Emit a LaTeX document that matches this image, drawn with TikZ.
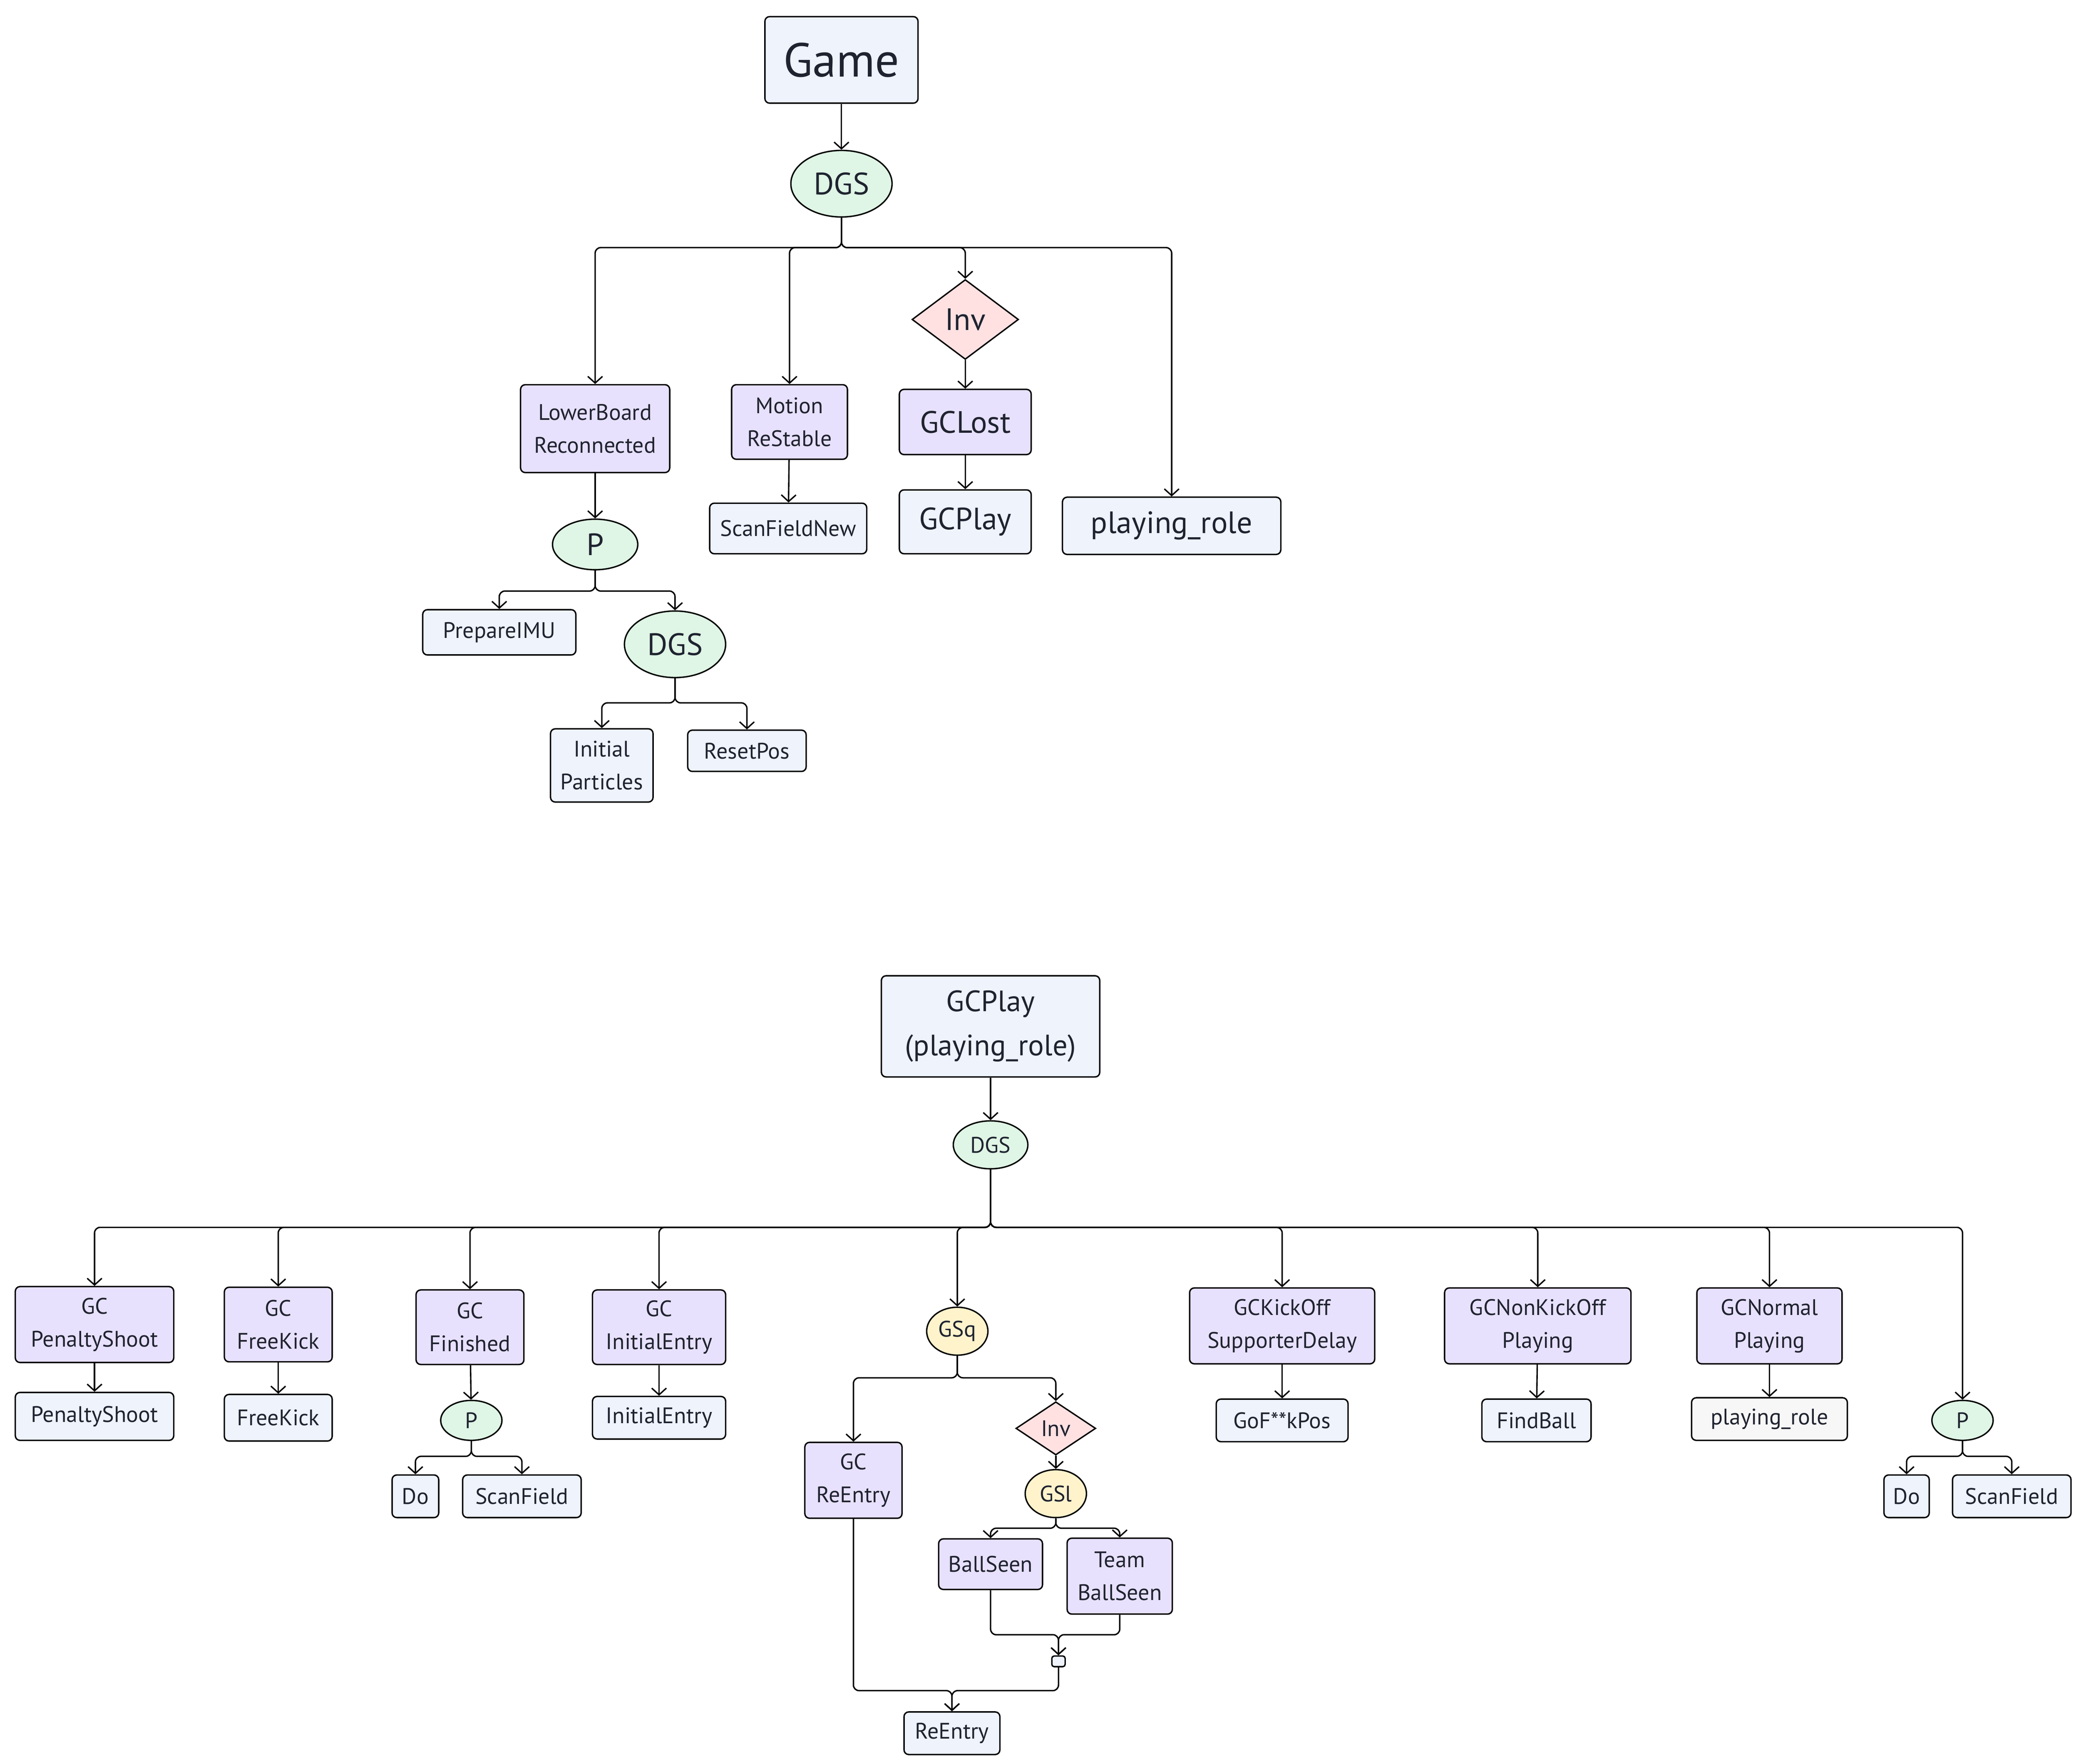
\documentclass[tikz,border=0pt]{standalone}
\usepackage{fontspec}
\setmainfont{PT Sans}
\usetikzlibrary{shapes.geometric,arrows.meta}
\definecolor{boxblue}{HTML}{EEF3FC}
\definecolor{boxlilac}{HTML}{E8E1FD}
\definecolor{selmint}{HTML}{DFF5E5}
\definecolor{invpink}{HTML}{FFE1E2}
\definecolor{seqyellow}{HTML}{FFF3CC}
\definecolor{inkgray}{HTML}{1F2330}
\tikzset{
  sz/.style 2 args={minimum width=#1*0.01cm,minimum height=#2*0.01cm},
  base/.style={draw,line width=0.3pt,inner sep=0pt,align=center,text=inkgray,
    font=\fontsize{4.8}{7}\selectfont},
  act/.style={base,rectangle,rounded corners=1pt,fill=boxblue},
  cond/.style={base,rectangle,rounded corners=1pt,fill=boxlilac},
  sel/.style={base,ellipse,fill=selmint},
  seq/.style={base,ellipse,fill=seqyellow},
  inv/.style={base,diamond,fill=invpink},
  big/.style={font=\fontsize{6.6}{9.4}\selectfont},
  link/.style={->,line width=0.3pt,rounded corners=1.2pt,
    >={Straight Barb[length=0.5mm,width=1.1mm]}}
}
\newcommand\fork[3]{\coordinate (fk) at (0,#3);
  \draw[link] (#1.south) -- (#1.south |- fk) -| (#2.north);}
\begin{document}
\begin{tikzpicture}[x=0.01cm,y=-0.01cm]
\useasboundingbox (0,0) rectangle (1563,1325);
% upper tree
\node[act,sz={115}{65},font=\fontsize{10.2}{12}\selectfont] (game) at (632,45) {Game};
\node[sel,big,sz={76}{50}] (dgsA) at (632,138) {DGS};
\node[cond,sz={112}{66}] (lowerboard) at (447,322) {LowerBoard\\Reconnected};
\node[cond,sz={87}{56}] (motion) at (593,317) {Motion\\ReStable};
\node[inv,big,sz={80}{60},aspect=1.33] (invA) at (725,240) {Inv};
\node[cond,big,sz={99}{49}] (gclost) at (725,317) {GCLost};
\node[act,big,sz={99}{48}] (gcplayA) at (725,392) {GCPlay};
\node[act,big,sz={164}{43}] (roleA) at (880,395) {playing\_role};
\node[act,sz={118}{38}] (scannew) at (592,397) {ScanFieldNew};
\node[sel,big,sz={64}{38}] (pA) at (447,409) {P};
\node[act,sz={115}{34}] (imu) at (375,475) {PrepareIMU};
\node[sel,big,sz={76}{50}] (dgsB) at (507,484) {DGS};
\node[act,sz={77}{55}] (particles) at (452,575) {Initial\\Particles};
\node[act,sz={89}{31}] (resetpos) at (561,564) {ResetPos};
\draw[link] (game) -- (dgsA);
\foreach \c in {lowerboard,motion,invA,roleA} {\fork{dgsA}{\c}{186}}
\draw[link] (invA) -- (gclost);
\draw[link] (gclost) -- (gcplayA);
\draw[link] (motion) -- (scannew);
\draw[link] (lowerboard) -- (pA);
\foreach \c in {imu,dgsB} {\fork{pA}{\c}{444}}
\foreach \c in {particles,resetpos} {\fork{dgsB}{\c}{528}}
% lower tree
\node[act,sz={164}{76},font=\fontsize{6.3}{9.4}\selectfont] (gcplayB) at (744,771) {GCPlay\\(playing\_role)};
\node[sel,sz={56}{36}] (dgsC) at (744,860) {DGS};
\node[cond,sz={119}{57}] (gcpenalty) at (71,995) {GC\\PenaltyShoot};
\node[cond,sz={81}{56}] (gcfree) at (209,995) {GC\\FreeKick};
\node[cond,sz={81}{56}] (gcfinished) at (353,997) {GC\\Finished};
\node[cond,sz={100}{56}] (gcinitial) at (495,997) {GC\\InitialEntry};
\node[seq,sz={46}{36}] (gsq) at (719,1000) {GSq};
\node[cond,sz={139}{57}] (gckickoff) at (963,996) {GCKickOff\\SupporterDelay};
\node[cond,sz={140}{57}] (gcnonkick) at (1155,996) {GCNonKickOff\\Playing};
\node[cond,sz={109}{57}] (gcnormal) at (1329,996) {GCNormal\\Playing};
\node[sel,sz={46}{30}] (pD) at (1474,1067) {P};
\node[act,sz={119}{36}] (penalty) at (71,1064) {PenaltyShoot};
\node[act,sz={81}{35}] (freekick) at (209,1065) {FreeKick};
\node[sel,sz={46}{30}] (pC) at (354,1067) {P};
\node[act,sz={100}{32}] (initial) at (495,1065) {InitialEntry};
\node[act,sz={99}{32}] (gofpos) at (963,1067) {GoF**kPos};
\node[act,sz={82}{32}] (findball) at (1154,1067) {FindBall};
\node[act,sz={117}{32},fill=gray!6] (roleB) at (1329,1066) {playing\_role};
\node[act,sz={35}{32}] (doA) at (312,1124) {Do};
\node[act,sz={89}{32}] (scanA) at (392,1124) {ScanField};
\node[act,sz={34}{32}] (doB) at (1432,1124) {Do};
\node[act,sz={89}{32}] (scanB) at (1511,1124) {ScanField};
\node[cond,sz={73}{57}] (gcreentry) at (641,1112) {GC\\ReEntry};
\node[inv,sz={60}{40},aspect=1.5] (invB) at (793,1073) {Inv};
\node[seq,sz={46}{36}] (gsl) at (793,1122) {GSl};
\node[cond,sz={78}{38}] (ballseen) at (744,1175) {BallSeen};
\node[cond,sz={79}{57}] (teamball) at (841,1184) {Team\\BallSeen};
\node[act,sz={10}{8},rounded corners=0.5pt] (junc) at (795,1248) {};
\node[act,sz={72}{32}] (reentry) at (715,1302) {ReEntry};
\draw[link] (gcplayB) -- (dgsC);
\foreach \c in {gcpenalty,gcfree,gcfinished,gcinitial,gsq,gckickoff,gcnonkick,gcnormal,pD} {\fork{dgsC}{\c}{922}}
\draw[link] (gcpenalty) -- (penalty);
\draw[link] (gcfree) -- (freekick);
\draw[link] (gcfinished) -- (pC);
\draw[link] (gcinitial) -- (initial);
\draw[link] (gckickoff) -- (gofpos);
\draw[link] (gcnonkick) -- (findball);
\draw[link] (gcnormal) -- (roleB);
\foreach \c in {doA,scanA} {\fork{pC}{\c}{1094}}
\foreach \c in {doB,scanB} {\fork{pD}{\c}{1094}}
\foreach \c in {gcreentry,invB} {\fork{gsq}{\c}{1035}}
\draw[link] (invB) -- (gsl);
\foreach \c in {ballseen,teamball} {\fork{gsl}{\c}{1148}}
\foreach \c in {ballseen,teamball} {\fork{\c}{junc}{1228}}
\foreach \c in {gcreentry,junc} {\fork{\c}{reentry}{1270}}
\end{tikzpicture}
\end{document}
